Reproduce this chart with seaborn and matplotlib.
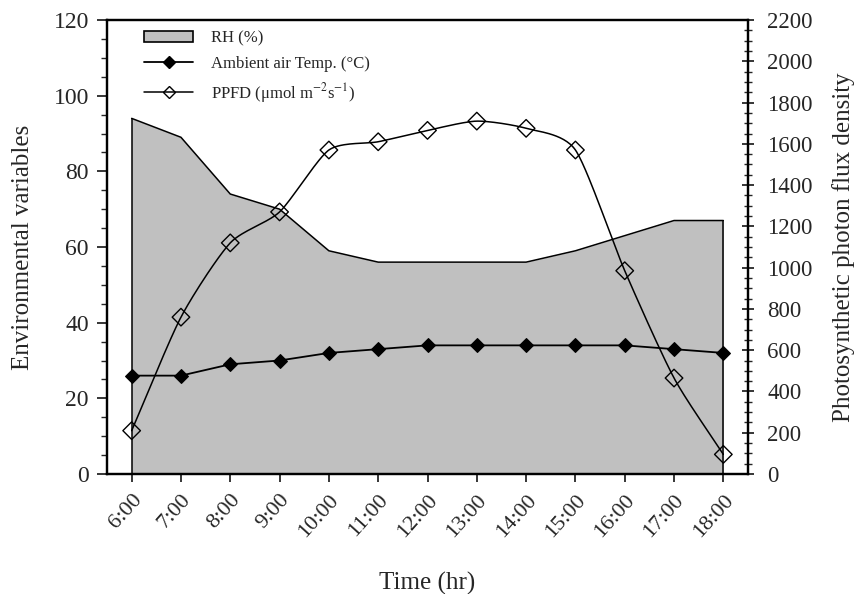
import numpy as np
import pandas as pd
import matplotlib
matplotlib.use("Agg")
import matplotlib.pyplot as plt
from matplotlib.patches import Patch
from matplotlib.lines import Line2D
from matplotlib.ticker import MultipleLocator
import seaborn as sns

times = ["6:00", "7:00", "8:00", "9:00", "10:00", "11:00", "12:00", "13:00",
         "14:00", "15:00", "16:00", "17:00", "18:00"]
rh = [94, 89, 74, 70, 59, 56, 56, 56, 56, 59, 63, 67, 67]
temp = [26, 26, 29, 30, 32, 33, 34, 34, 34, 34, 34, 33, 32]
ppfd = [210, 760, 1120, 1270, 1570, 1610, 1665, 1710, 1675, 1570, 985, 465, 95]

sns.set_style("ticks")
plt.rcParams['font.family'] = ['Liberation Serif', 'DejaVu Serif']
plt.rcParams['mathtext.fontset'] = 'stix'

df = pd.DataFrame({"x": np.arange(len(times)), "rh": rh, "temp": temp, "ppfd": ppfd})

fig = plt.figure(figsize=(8.64, 5.94), dpi=100)
ax = fig.add_axes([107/864, 1-474/594, (748-107)/864, (474-20)/594])
ax2 = ax.twinx()

# RH area
ax.fill_between(df["x"], 0, df["rh"], color="#c0c0c0", linewidth=0, zorder=1)
sns.lineplot(data=df, x="x", y="rh", ax=ax, color="black", linewidth=1.1, zorder=2)
ax.vlines([df["x"].iloc[0], df["x"].iloc[-1]], 0, [rh[0], rh[-1]], color="black", linewidth=1.1, zorder=2)

# Temperature
sns.lineplot(data=df, x="x", y="temp", ax=ax, color="black", linewidth=1.3,
             marker="D", markersize=7, markerfacecolor="black", markeredgecolor="black", zorder=4)

# PPFD smooth curve (cardinal spline through the data points)
def cardinal(xs, ys, c=0.35, n=30):
    xs = np.asarray(xs, float); ys = np.asarray(ys, float)
    px = np.concatenate([[2*xs[0]-xs[1]], xs, [2*xs[-1]-xs[-2]]])
    py = np.concatenate([[2*ys[0]-ys[1]], ys, [2*ys[-1]-ys[-2]]])
    ox, oy = [], []
    t = np.linspace(0, 1, n, endpoint=False)
    h00 = 2*t**3 - 3*t**2 + 1
    h10 = t**3 - 2*t**2 + t
    h01 = -2*t**3 + 3*t**2
    h11 = t**3 - t**2
    for i in range(1, len(px)-2):
        for arr, out in ((px, ox), (py, oy)):
            p0, p1, p2, p3 = arr[i-1], arr[i], arr[i+1], arr[i+2]
            m1 = c*(p2-p0); m2 = c*(p3-p1)
            out.extend(h00*p1 + h10*m1 + h01*p2 + h11*m2)
    ox.append(xs[-1]); oy.append(ys[-1])
    return np.array(ox), np.array(oy)

cx, cy = cardinal(df["x"], df["ppfd"])
ax2.plot(cx, cy, color="black", linewidth=1.1, zorder=3)
sns.scatterplot(data=df, x="x", y="ppfd", ax=ax2, marker="D", s=80,
                facecolor="none", edgecolor="black", linewidth=1.0, zorder=4)

ax.set_xlim(-0.5, len(times)-0.5)
ax.set_ylim(0, 120)
ax2.set_ylim(0, 2200)
ax.set_xticks(df["x"])
ax.set_xticklabels(times, rotation=48, ha="right", rotation_mode="anchor", fontsize=16)
ax.yaxis.set_major_locator(MultipleLocator(20))
ax.yaxis.set_minor_locator(MultipleLocator(5))
ax2.yaxis.set_major_locator(MultipleLocator(200))
ax2.yaxis.set_minor_locator(MultipleLocator(50))
ax.tick_params(axis="y", which="major", direction="out", length=7, width=1.3, labelsize=17, pad=6)
ax.tick_params(axis="y", which="minor", direction="out", length=4, width=1)
ax.tick_params(axis="x", which="major", direction="out", length=6, width=1.3, pad=6)
ax2.tick_params(axis="y", which="major", direction="inout", length=8, width=1.3, labelsize=16.5, pad=10)
ax2.tick_params(axis="y", which="minor", direction="inout", length=6, width=1)

ax.set_xlabel("Time (hr)", fontsize=18, labelpad=22)
ax.set_ylabel("Environmental variables", fontsize=18, labelpad=14)
ax2.set_ylabel("Photosynthetic photon flux density", fontsize=18, labelpad=14)

for a in (ax, ax2):
    for s in a.spines.values():
        s.set_linewidth(1.6)
        s.set_color("black")

handles = [
    Patch(facecolor="#c0c0c0", edgecolor="black", linewidth=1.2),
    Line2D([0], [0], color="black", linewidth=1.3, marker="D", markersize=6,
           markerfacecolor="black"),
    Line2D([0], [0], color="black", linewidth=1.1, marker="D", markersize=6,
           markerfacecolor="none"),
]
labels = ["RH (%)", "Ambient air Temp. (°C)", r"PPFD (μmol m$^{-2}$s$^{-1}$)"]
ax2.legend(handles, labels, loc="upper left", bbox_to_anchor=(0.035, 1.01), frameon=False,
           fontsize=12, handlelength=2.9, handletextpad=1.1, labelspacing=0.55)

fig.savefig("out.png", dpi=100)
